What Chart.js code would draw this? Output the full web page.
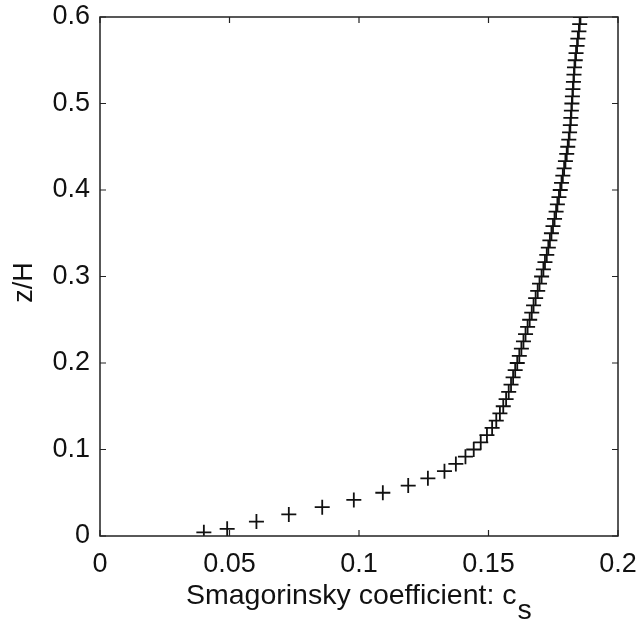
<!DOCTYPE html>
<html>
<head>
<meta charset="utf-8">
<script src="https://cdn.jsdelivr.net/npm/chart.js@4.4.1/dist/chart.umd.min.js"></script>
<style>
  html, body { margin: 0; padding: 0; background: #fff; }
  #wrap { width: 639px; height: 623px; }
</style>
</head>
<body>
<div id="wrap"><canvas id="csChart" width="639" height="623"></canvas></div>
<script>
// z/H heights of the profile points
const zH = [
    0.0042, 0.0083, 0.0167, 0.0250, 0.0333, 0.0417, 0.0500, 0.0583, 0.0667, 0.0750,
    0.0833, 0.0917, 0.1000, 0.1083, 0.1167, 0.1250, 0.1333, 0.1417, 0.1500, 0.1583,
    0.1667, 0.1750, 0.1833, 0.1917, 0.2000, 0.2083, 0.2167, 0.2250, 0.2333, 0.2417,
    0.2500, 0.2583, 0.2667, 0.2750, 0.2833, 0.2917, 0.3000, 0.3083, 0.3167, 0.3250,
    0.3333, 0.3417, 0.3500, 0.3583, 0.3667, 0.3750, 0.3833, 0.3917, 0.4000, 0.4083,
    0.4167, 0.4250, 0.4333, 0.4417, 0.4500, 0.4583, 0.4667, 0.4750, 0.4833, 0.4917,
    0.5000, 0.5083, 0.5167, 0.5250, 0.5333, 0.5417, 0.5500, 0.5583, 0.5667, 0.5750,
    0.5833, 0.5917, 0.6000
];

// Smagorinsky coefficient c_s at each height
const cs = [
    0.0401, 0.0491, 0.0604, 0.0729, 0.0858, 0.0980, 0.1092, 0.1190, 0.1266, 0.1330,
    0.1374, 0.1411, 0.1443, 0.1470, 0.1494, 0.1514, 0.1530, 0.1544, 0.1557, 0.1568,
    0.1578, 0.1587, 0.1595, 0.1603, 0.1611, 0.1619, 0.1627, 0.1635, 0.1643, 0.1651,
    0.1659, 0.1667, 0.1674, 0.1682, 0.1690, 0.1697, 0.1705, 0.1712, 0.1718, 0.1725,
    0.1731, 0.1737, 0.1743, 0.1749, 0.1755, 0.1761, 0.1766, 0.1772, 0.1777, 0.1782,
    0.1787, 0.1792, 0.1797, 0.1802, 0.1806, 0.1810, 0.1813, 0.1816, 0.1818, 0.1820,
    0.1822, 0.1824, 0.1826, 0.1828, 0.1830, 0.1832, 0.1835, 0.1838, 0.1842, 0.1845,
    0.1849, 0.1852, 0.1855
];

const xTicks = [0, 0.05, 0.1, 0.15, 0.2];
const yTicks = [0, 0.1, 0.2, 0.3, 0.4, 0.5, 0.6];
const xTitle = 'Smagorinsky coefficient: c';
const xTitleSub = 's';
const yTitle = 'z/H';

const FONT = '"Liberation Sans", Arial, Helvetica, sans-serif';
const INK = '#111';

// drop the label-overflow padding so the plot box lands where the layout says
function noOverflow(s) {
    s.paddingLeft = 0; s.paddingRight = 0; s.paddingTop = 0; s.paddingBottom = 0;
}

// Box with inward ticks on all four sides, plus axis titles (subscript needs manual drawing)
const frameAndTitles = {
    id: 'frameAndTitles',
    afterDraw(chart) {
        const { ctx, chartArea: a, scales } = chart;
        ctx.save();
        ctx.strokeStyle = '#222';
        ctx.lineWidth = 1.5;
        ctx.strokeRect(a.left, a.top, a.right - a.left, a.bottom - a.top);

        const tl = 6;
        ctx.lineWidth = 1.2;
        ctx.beginPath();
        xTicks.forEach(v => {
            const px = scales.x.getPixelForValue(v);
            ctx.moveTo(px, a.bottom); ctx.lineTo(px, a.bottom - tl);
            ctx.moveTo(px, a.top); ctx.lineTo(px, a.top + tl);
        });
        yTicks.forEach(v => {
            const py = scales.y.getPixelForValue(v);
            ctx.moveTo(a.left, py); ctx.lineTo(a.left + tl, py);
            ctx.moveTo(a.right, py); ctx.lineTo(a.right - tl, py);
        });
        ctx.stroke();

        // x title with subscript
        ctx.fillStyle = INK;
        ctx.font = '28.5px ' + FONT;
        ctx.textBaseline = 'alphabetic';
        ctx.textAlign = 'left';
        const w = ctx.measureText(xTitle).width;
        const ws = ctx.measureText(xTitleSub).width;
        const x0 = 186;
        ctx.fillText(xTitle, x0, 604);
        ctx.fillText(xTitleSub, x0 + w + 1, 619);

        // y title
        ctx.font = '27px ' + FONT;
        ctx.translate(25, (a.top + a.bottom) / 2 + 6);
        ctx.rotate(-Math.PI / 2);
        ctx.textAlign = 'center';
        ctx.textBaseline = 'middle';
        ctx.fillText(yTitle, 0, 0);
        ctx.restore();
    }
};

const ctx = document.getElementById('csChart').getContext('2d');
new Chart(ctx, {
    type: 'scatter',
    data: {
        datasets: [{
            label: 'c_s',
            data: cs.map((v, i) => ({ x: v, y: zH[i] })),
            pointStyle: 'cross',
            pointRadius: 7.5,
            pointHoverRadius: 7.5,
            borderColor: '#111',
            backgroundColor: '#111',
            pointBorderWidth: 1.8,
            showLine: false
        }]
    },
    options: {
        responsive: false,
        animation: false,
        layout: { padding: { left: 0, right: 21, top: 17, bottom: 0 } },
        plugins: {
            legend: { display: false },
            tooltip: { enabled: false }
        },
        scales: {
            x: {
                type: 'linear',
                min: 0,
                max: 0.2,
                afterBuildTicks: s => { s.ticks = xTicks.map(v => ({ value: v })); },
                afterFit: s => { s.height = 87; noOverflow(s); },
                grid: { display: false, drawTicks: false },
                border: { display: false },
                ticks: {
                    padding: 12,
                    color: INK,
                    font: { family: FONT, size: 27 },
                    maxRotation: 0,
                    callback: v => String(v)
                }
            },
            y: {
                type: 'linear',
                min: 0,
                max: 0.6,
                afterBuildTicks: s => { s.ticks = yTicks.map(v => ({ value: v })); },
                afterFit: s => { s.width = 100; noOverflow(s); },
                grid: { display: false, drawTicks: false },
                border: { display: false },
                ticks: {
                    padding: 10,
                    color: INK,
                    font: { family: FONT, size: 27 },
                    callback: v => String(v)
                }
            }
        }
    },
    plugins: [frameAndTitles]
});
</script>
</body>
</html>
